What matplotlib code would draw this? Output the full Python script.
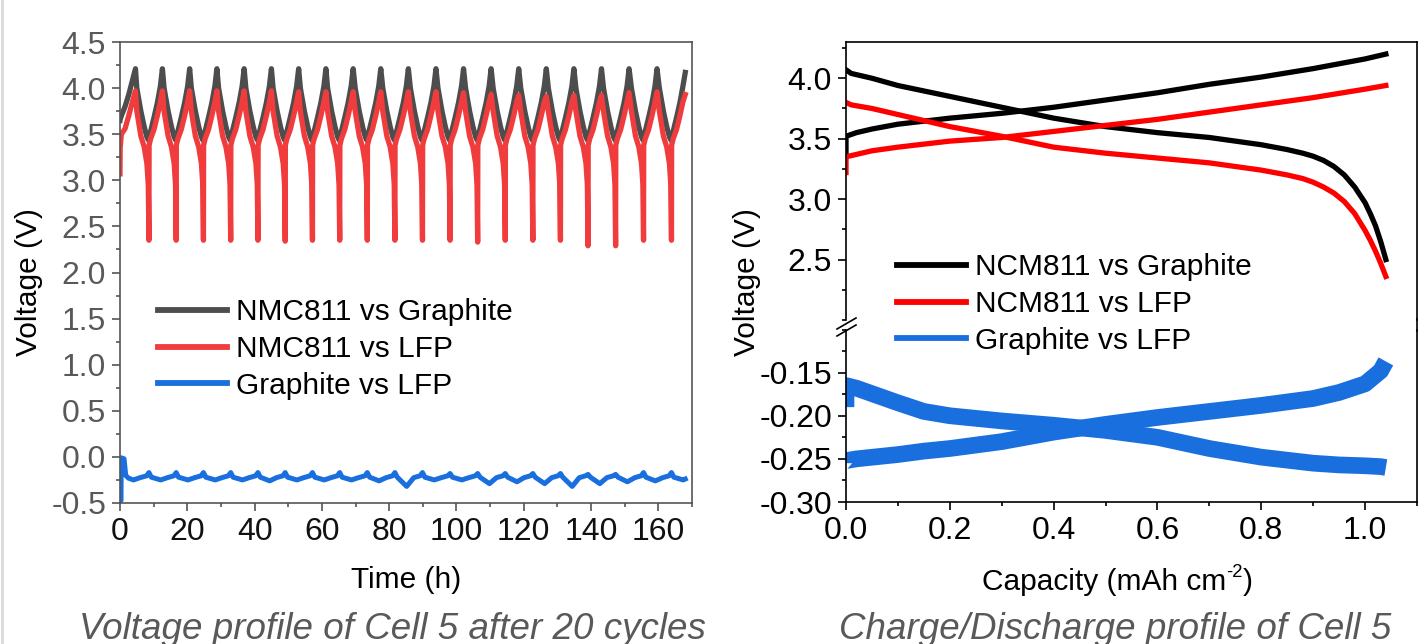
import numpy as np
import matplotlib
matplotlib.use("Agg")
import matplotlib.pyplot as plt
from matplotlib.lines import Line2D
from matplotlib.ticker import MultipleLocator, FormatStrFormatter

plt.rcParams['font.family'] = ['Liberation Sans', 'DejaVu Sans']
plt.rcParams['axes.unicode_minus'] = False

W, H = 1424, 644

# =========================
# left panel: voltage vs time (h)
# =========================
# end of each discharge (NMC811 vs LFP minimum)
T_MIN = [8.6, 16.7, 24.8, 32.9, 41.0, 49.1, 57.2, 65.3, 73.5, 81.7,
         89.9, 98.1, 106.3, 114.5, 122.7, 130.9, 139.1, 147.3, 155.6, 163.9]
RED_MIN = [2.35, 2.35, 2.35, 2.35, 2.35, 2.34, 2.35, 2.35, 2.35, 2.35,
           2.35, 2.35, 2.33, 2.35, 2.35, 2.35, 2.29, 2.29, 2.35, 2.35]
# charge peaks (one before each minimum)
GRAY_PEAK = [4.21, 4.21, 4.21, 4.21, 4.21, 4.21, 4.21, 4.21, 4.21, 4.21,
             4.21, 4.21, 4.21, 4.21, 4.21, 4.21, 4.21, 4.21, 4.21, 4.21]
RED_PEAK = [3.97, 3.97, 3.97, 3.97, 3.97, 3.97, 3.96, 3.96, 3.96, 3.96,
            3.96, 3.96, 3.95, 3.93, 3.92, 3.91, 3.92, 3.92, 3.95, 3.96]
# Graphite vs LFP: bump at end of discharge, trough mid-cycle
BLUE_BUMP = [-0.17, -0.17, -0.17, -0.17, -0.17, -0.17, -0.17, -0.17, -0.17, -0.17,
             -0.17, -0.18, -0.18, -0.18, -0.18, -0.18, -0.19, -0.19, -0.17, -0.17]
BLUE_LOW = [-0.25, -0.25, -0.25, -0.25, -0.26, -0.25, -0.25, -0.25, -0.26, -0.32,
            -0.25, -0.25, -0.29, -0.27, -0.29, -0.32, -0.29, -0.27, -0.26, -0.25]

# first (partial) charge
T_START = [0.0, 0.05, 0.4, 1.5, 2.6, 3.6]
GRAY_START = [3.65, 3.66, 3.70, 3.80, 3.93, 4.07]
RED_START = [3.07, 3.35, 3.50, 3.56, 3.70, 3.84]
T_PEAK0 = 4.6
T_BLUE_START = [0.0, 0.3, 0.35, 1.2, 1.7, 2.5, 4.0, 6.0]
BLUE_START = [-0.48, -0.47, -0.01, -0.02, -0.20, -0.23, -0.25, -0.225]

# cycle shape: charge offsets after a minimum, discharge offsets before the next one
CHG_DT = [0.05, 0.5, 1.5, 2.5, 3.4]
GRAY_CHG = [3.45, 3.53, 3.68, 3.84, 4.02]
RED_CHG = [3.38, 3.45, 3.55, 3.70, 3.85]
PEAK_DT = 4.0
DIS_DT = [3.6, 2.4, 1.4, 0.6, 0.2]
GRAY_DIS = [4.00, 3.75, 3.58, 3.47, 3.44]
RED_DIS = [3.75, 3.48, 3.36, 3.18, 2.95]
GRAY_AT_MIN = 3.43
BLUE_DT_AFTER = [0.7, 3.5]
BLUE_DT_BEFORE = [2.6, 0.7]
BLUE_MID = [-0.22, -0.225, -0.205]
T_END, GRAY_END, RED_END, BLUE_END = 168.0, 4.17, 3.93, -0.24

# =========================
# right panel: capacity (mAh cm-2)
# =========================
CAP_DIS = [0.0, 0.01, 0.05, 0.1, 0.2, 0.3, 0.4, 0.5, 0.6, 0.7, 0.8, 0.85, 0.88, 0.9,
           0.92, 0.94, 0.96, 0.98, 1.0, 1.01, 1.02, 1.03, 1.04]
NCM_GR_DIS = [4.07, 4.04, 4.00, 3.94, 3.85, 3.76, 3.67, 3.60, 3.55, 3.51, 3.45, 3.41, 3.38, 3.355,
              3.32, 3.27, 3.20, 3.10, 2.97, 2.88, 2.78, 2.65, 2.50]
NCM_LFP_DIS = [3.80, 3.78, 3.75, 3.70, 3.60, 3.52, 3.43, 3.38, 3.34, 3.30, 3.24, 3.20, 3.17, 3.14,
               3.10, 3.05, 2.98, 2.88, 2.74, 2.66, 2.57, 2.47, 2.36]
CAP_CHG = [0.0, 0.0, 0.02, 0.05, 0.1, 0.2, 0.3, 0.4, 0.5, 0.6, 0.7, 0.8, 0.9, 1.0, 1.04]
NCM_GR_CHG = [3.36, 3.52, 3.55, 3.58, 3.62, 3.67, 3.71, 3.76, 3.82, 3.88, 3.95, 4.01, 4.08, 4.16, 4.20]
NCM_LFP_CHG = [3.22, 3.35, 3.37, 3.40, 3.43, 3.48, 3.51, 3.56, 3.61, 3.66, 3.72, 3.78, 3.84, 3.91, 3.94]
CAP_GR_LFP = [0.0, 0.0, 0.02, 0.1, 0.15, 0.2, 0.3, 0.4, 0.5, 0.6, 0.7, 0.8, 0.9, 0.95, 1.0, 1.03, 1.04]
GR_LFP_A = [-0.19, -0.165, -0.168, -0.185, -0.195, -0.200, -0.206, -0.211, -0.217, -0.225,
            -0.238, -0.248, -0.255, -0.257, -0.258, -0.259, -0.260]
GR_LFP_B = [-0.255, -0.252, -0.250, -0.245, -0.241, -0.238, -0.230, -0.219, -0.210, -0.202,
            -0.195, -0.188, -0.180, -0.173, -0.163, -0.148, -0.137]

LEFT_LABELS = ["NMC811 vs Graphite", "NMC811 vs LFP", "Graphite vs LFP"]
RIGHT_LABELS = ["NCM811 vs Graphite", "NCM811 vs LFP", "Graphite vs LFP"]

C_GRAY, C_RED_L, C_BLUE = "#4d4d4d", "#f03c3c", "#1a6fdf"
C_BLACK, C_RED_R = "#000000", "#ff0000"
TXT_GRAY = "#595959"
TICK_FS = 23
LABEL_FS = 21.5


def build_time_series():
    t, g, r = list(T_START), list(GRAY_START), list(RED_START)
    t.append(T_PEAK0); g.append(GRAY_PEAK[0]); r.append(RED_PEAK[0])
    for k, s2 in enumerate(T_MIN):
        # discharge down to the minimum
        for dt, gv, rv in zip(DIS_DT, GRAY_DIS, RED_DIS):
            t.append(s2 - dt); g.append(gv); r.append(rv)
        t.append(s2); g.append(GRAY_AT_MIN); r.append(RED_MIN[k])
        # next charge
        for dt, gv, rv in zip(CHG_DT, GRAY_CHG, RED_CHG):
            if s2 + dt < T_END:
                t.append(s2 + dt); g.append(gv); r.append(rv)
        if k + 1 < len(T_MIN):
            t.append(s2 + PEAK_DT); g.append(GRAY_PEAK[k + 1]); r.append(RED_PEAK[k + 1])
    t.append(T_END); g.append(GRAY_END); r.append(RED_END)

    tb, b = list(T_BLUE_START), list(BLUE_START)
    for k, s2 in enumerate(T_MIN):
        tb.append(s2 - BLUE_DT_BEFORE[0]); b.append(BLUE_MID[1])
        tb.append(s2 - BLUE_DT_BEFORE[1]); b.append(BLUE_MID[2])
        tb.append(s2); b.append(BLUE_BUMP[k])
        tb.append(s2 + BLUE_DT_AFTER[0]); b.append(BLUE_MID[0])
        if s2 + BLUE_DT_AFTER[1] < T_END:
            tb.append(s2 + BLUE_DT_AFTER[1]); b.append(BLUE_LOW[k])
    tb.append(T_END); b.append(BLUE_END)
    return (np.array(t), np.array(g), np.array(r), np.array(tb), np.array(b))


def style_axis(ax, spine_color, xlab_color, ylab_color, fs):
    for sp in ax.spines.values():
        sp.set_color(spine_color)
        sp.set_linewidth(1.2)
    ax.tick_params(which="both", direction="out", top=False, right=False,
                   color=spine_color, width=1.2)
    ax.tick_params(which="major", length=6, pad=4)
    ax.tick_params(which="minor", length=3)
    ax.tick_params(axis="x", labelcolor=xlab_color, labelsize=fs)
    ax.tick_params(axis="y", labelcolor=ylab_color, labelsize=fs)


def fx(px):
    return px / W


def fy(py):
    return 1 - py / H


def label_with_sup(xc, y_base, base, sup, tail, fs):
    # "cm-2" with a plain hyphen in a small raised superscript
    rend = fig.canvas.get_renderer()
    parts = [fig.text(0, 0, base, fontsize=fs, va="baseline"),
             fig.text(0, 0, sup, fontsize=fs * 0.62, va="baseline"),
             fig.text(0, 0, tail, fontsize=fs, va="baseline")]
    widths = [p.get_window_extent(rend).width for p in parts]
    left = xc - sum(widths) / 2
    raise_px = fs * 1.389 * 0.42
    parts[0].set_position((fx(left), fy(y_base)))
    parts[1].set_position((fx(left + widths[0]), fy(y_base - raise_px)))
    parts[2].set_position((fx(left + widths[0] + widths[1]), fy(y_base)))


fig = plt.figure(figsize=(W / 100, H / 100), dpi=100)

# ---------- left ----------
axL = fig.add_axes([fx(120), fy(503), fx(692 - 120), (503 - 42) / H])
t, g, r, tb, b = build_time_series()
axL.plot(t, g, color=C_GRAY, lw=3.8, solid_joinstyle="round")
axL.plot(t, r, color=C_RED_L, lw=3.8, solid_joinstyle="round")
axL.plot(tb, b, color=C_BLUE, lw=3.6, solid_joinstyle="round")
axL.set_xlim(0, 170)
axL.set_ylim(-0.5, 4.5)
axL.xaxis.set_major_locator(MultipleLocator(20))
axL.xaxis.set_minor_locator(MultipleLocator(10))
axL.yaxis.set_major_locator(MultipleLocator(0.5))
axL.yaxis.set_minor_locator(MultipleLocator(0.25))
axL.yaxis.set_major_formatter(FormatStrFormatter("%.1f"))
style_axis(axL, "#555555", "#111111", TXT_GRAY, TICK_FS)

handlesL = [Line2D([], [], color=c, lw=4.2) for c in (C_GRAY, C_RED_L, C_BLUE)]
fig.legend(handlesL, LEFT_LABELS, loc="upper left", bbox_to_anchor=(fx(158), fy(298)),
           frameon=False, fontsize=LABEL_FS, handlelength=2.3, handletextpad=0.3,
           labelspacing=0.3, borderpad=0, borderaxespad=0)

fig.text(fx(29), fy(282), "Voltage (V)", rotation=90, ha="center", va="center", fontsize=LABEL_FS)
fig.text(fx(406), fy(580), "Time (h)", ha="center", va="center", fontsize=LABEL_FS)

# ---------- right (broken y axis) ----------
x0, x1 = 846, 1417
axT = fig.add_axes([fx(x0), fy(320), fx(x1 - x0), (320 - 42) / H])
axB = fig.add_axes([fx(x0), fy(502), fx(x1 - x0), (502 - 329.5) / H], sharex=axT)

axT.plot(CAP_DIS, NCM_GR_DIS, color=C_BLACK, lw=3.8)
axT.plot(CAP_CHG, NCM_GR_CHG, color=C_BLACK, lw=3.8)
axT.plot(CAP_DIS, NCM_LFP_DIS, color=C_RED_R, lw=3.8)
axT.plot(CAP_CHG, NCM_LFP_CHG, color=C_RED_R, lw=3.8)
axB.plot(CAP_GR_LFP, GR_LFP_A, color=C_BLUE, lw=12, solid_capstyle="butt")
axB.plot(CAP_GR_LFP, GR_LFP_B, color=C_BLUE, lw=12, solid_capstyle="butt")

axT.set_ylim(2.0, 4.3)
axB.set_ylim(-0.30, -0.10)
axB.set_xlim(0, 1.1)
axB.xaxis.set_major_locator(MultipleLocator(0.2))
axB.xaxis.set_minor_locator(MultipleLocator(0.1))
axB.xaxis.set_major_formatter(FormatStrFormatter("%.1f"))
axT.yaxis.set_major_locator(MultipleLocator(0.5))
axT.yaxis.set_minor_locator(MultipleLocator(0.25))
axT.yaxis.set_major_formatter(FormatStrFormatter("%.1f"))
axB.yaxis.set_major_locator(MultipleLocator(0.05))
axB.yaxis.set_minor_locator(MultipleLocator(0.025))
axB.yaxis.set_major_formatter(FormatStrFormatter("%.2f"))
axT.set_yticks([2.5, 3.0, 3.5, 4.0])
axB.set_yticks([-0.30, -0.25, -0.20, -0.15])
for ax in (axT, axB):
    style_axis(ax, "#000000", "#000000", "#000000", TICK_FS)
axT.spines["bottom"].set_visible(False)
axT.tick_params(axis="x", which="both", bottom=False, labelbottom=False)
axB.spines["top"].set_visible(False)

# right spine through the gap, and the // break mark on the left spine
fig.add_artist(Line2D([fx(x1), fx(x1)], [fy(319), fy(331)], color="black", lw=1.2))
for dy in (0, 7):
    fig.add_artist(Line2D([fx(837), fx(856)], [fy(329 + dy), fy(318 + dy)],
                          color="black", lw=1.2))

handlesR = [Line2D([], [], color=c, lw=4.2) for c in (C_BLACK, C_RED_R, C_BLUE)]
fig.legend(handlesR, RIGHT_LABELS, loc="upper left", bbox_to_anchor=(fx(897), fy(253)),
           frameon=False, fontsize=LABEL_FS, handlelength=2.3, handletextpad=0.3,
           labelspacing=0.3, borderpad=0, borderaxespad=0)

fig.text(fx(747), fy(282), "Voltage (V)", rotation=90, ha="center", va="center", fontsize=LABEL_FS)
label_with_sup(1117, 590, "Capacity (mAh cm", "-2", ")", LABEL_FS)

# ---------- captions ----------
cap_font = dict(family=["Liberation Sans Narrow", "Liberation Sans"], style="italic",
                color=TXT_GRAY, fontsize=26.5, ha="center", va="baseline")
fig.text(fx(392), fy(639), "Voltage profile of Cell 5 after 20 cycles", **cap_font)
fig.text(fx(1115), fy(639), "Charge/Discharge profile of Cell 5", **cap_font)

# light frame line at left edge
fig.add_artist(Line2D([fx(1.5), fx(1.5)], [0, 1], color="#d9d9d9", lw=2))

fig.savefig("out.png", dpi=100)
